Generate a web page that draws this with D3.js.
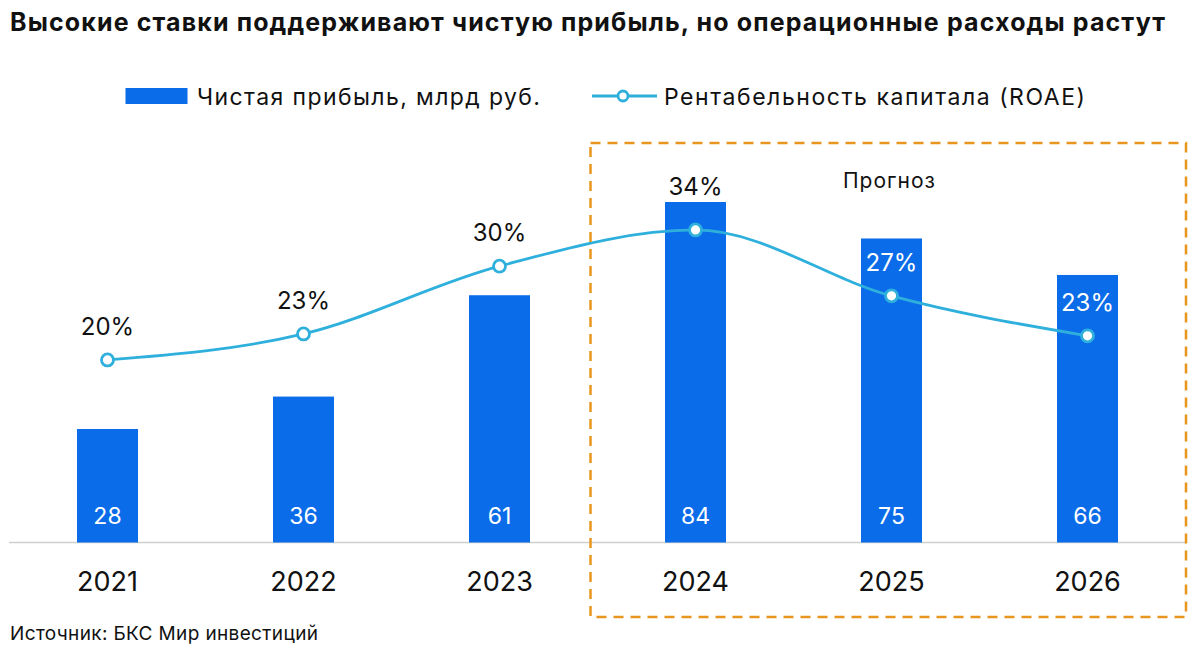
<!DOCTYPE html>
<html>
<head>
<meta charset="utf-8">
<script src="https://cdn.jsdelivr.net/npm/d3@7"></script>
<style>
  html, body { margin: 0; padding: 0; background: #fff; }
  svg { display: block; font-family: Inter, Roboto, "Noto Sans", sans-serif; }
</style>
</head>
<body>
<svg id="chart" width="1200" height="654"></svg>
<script>
const titleText = "Высокие ставки поддерживают чистую прибыль, но операционные расходы растут";
const sourceText = "Источник: БКС Мир инвестиций";
const forecastLabel = "Прогноз";
const years = ["2021", "2022", "2023", "2024", "2025", "2026"];
const netProfit = [28, 36, 61, 84, 75, 66];
const roae = [19.9, 22.7, 30.0, 33.9, 26.8, 22.5];
const forecastYears = ["2024", "2025", "2026"];
const legendBar = "Чистая прибыль, млрд руб.";
const legendLine = "Рентабельность капитала (ROAE)";

const svg = d3.select("#chart");
const barColor = "#0a6ce8";
const lineColor = "#2fb0dc";
const boxColor = "#e8961e";
const textColor = "#111";

const baseY = 542.5;
const x = d3.scalePoint().domain(years).range([107.5, 1087.5]);
const barW = 61;
const y = d3.scaleLinear().domain([0, 84]).range([baseY, 202]);
const y2 = d3.scaleLinear().domain([20, 34]).range([359, 229]);

function fit(sel, w) {
  sel.attr("textLength", w).attr("lengthAdjust", "spacing");
  return sel;
}

// Title
fit(svg.append("text").attr("x", 10).attr("y", 31)
  .attr("font-size", 25).attr("font-weight", 700).attr("fill", textColor)
  .text(titleText), 1155);

// Legend
svg.append("rect").attr("x", 125.5).attr("y", 88).attr("width", 62).attr("height", 16).attr("fill", barColor);
fit(svg.append("text").attr("x", 197).attr("y", 105).attr("font-size", 23).attr("fill", textColor).text(legendBar), 343);
svg.append("line").attr("x1", 592).attr("x2", 657).attr("y1", 96).attr("y2", 96)
  .attr("stroke", lineColor).attr("stroke-width", 2.8);
svg.append("circle").attr("cx", 623).attr("cy", 96).attr("r", 5)
  .attr("fill", "#fff").attr("stroke", lineColor).attr("stroke-width", 2.8);
fit(svg.append("text").attr("x", 664).attr("y", 105).attr("font-size", 23).attr("fill", textColor).text(legendLine), 421);

// Baseline
svg.append("line").attr("x1", 9).attr("x2", 1186).attr("y1", baseY).attr("y2", baseY)
  .attr("stroke", "#cfcfcf").attr("stroke-width", 1.5);

// Bars
svg.selectAll("rect.bar").data(years).join("rect").attr("class", "bar")
  .attr("x", d => x(d) - barW / 2)
  .attr("y", (d, i) => y(netProfit[i]))
  .attr("width", barW)
  .attr("height", (d, i) => baseY - y(netProfit[i]))
  .attr("fill", barColor);

// Bar value labels
svg.selectAll("text.val").data(years).join("text").attr("class", "val")
  .attr("x", d => x(d)).attr("y", 524)
  .attr("text-anchor", "middle").attr("font-size", 23).attr("fill", "#fff")
  .text((d, i) => netProfit[i]);

// Year labels
svg.selectAll("text.year").data(years).join("text").attr("class", "year")
  .attr("x", d => x(d)).attr("y", 591)
  .attr("text-anchor", "middle").attr("font-size", 27).attr("fill", textColor)
  .text(d => d);

// Line
const pts = years.map((d, i) => [x(d), y2(roae[i])]);
svg.append("path").attr("d", d3.line().curve(d3.curveMonotoneX)(pts))
  .attr("fill", "none").attr("stroke", lineColor).attr("stroke-width", 2.8);
svg.selectAll("circle.pt").data(years).join("circle").attr("class", "pt")
  .attr("cx", d => x(d)).attr("cy", (d, i) => y2(roae[i])).attr("r", 6)
  .attr("fill", "#fff").attr("stroke", lineColor).attr("stroke-width", 2.8);

// ROAE labels
svg.selectAll("text.pct").data(years).join("text").attr("class", "pct")
  .attr("x", d => x(d))
  .attr("y", (d, i) => y2(roae[i]) - (d === "2024" ? 35 : 25))
  .attr("text-anchor", "middle").attr("font-size", 24)
  .attr("fill", (d, i) => (d === "2025" || d === "2026") ? "#fff" : textColor)
  .text((d, i) => Math.round(roae[i]) + "%");

// Forecast box
const bx0 = x(forecastYears[0]) - 105;
const bx1 = x(forecastYears[forecastYears.length - 1]) + 98.5;
svg.append("rect").attr("x", bx0).attr("y", 143).attr("width", bx1 - bx0).attr("height", 617 - 143)
  .attr("fill", "none").attr("stroke", boxColor).attr("stroke-width", 2.5)
  .attr("stroke-dasharray", "10,7");
fit(svg.append("text").attr("x", 843).attr("y", 188)
  .attr("font-size", 21).attr("fill", textColor).text(forecastLabel), 92);

// Source
fit(svg.append("text").attr("x", 10).attr("y", 640).attr("font-size", 19).attr("fill", textColor).text(sourceText), 308);
</script>
</body>
</html>
